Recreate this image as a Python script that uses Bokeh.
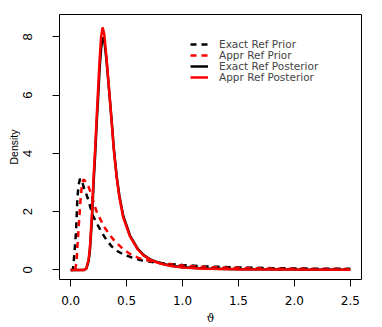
from bokeh.plotting import figure
from bokeh.models import FixedTicker, Legend, LegendItem, Range1d
from bokeh.embed import file_html
from bokeh.resources import INLINE

# ---- data ----
exact_prior_x = [0.0, 0.02, 0.03, 0.04, 0.048, 0.06, 0.07, 0.083, 0.1, 0.12, 0.14, 0.158, 0.18, 0.2,
                 0.24, 0.276, 0.32, 0.365, 0.42, 0.47, 0.55, 0.63, 0.75, 0.9, 1.0, 1.2, 1.5, 1.8, 2.1, 2.5]
exact_prior_y = [0.0, 0.0, 0.4, 0.9, 1.32, 2.45, 2.9, 3.13, 3.05, 2.8, 2.6, 2.4, 2.1, 1.85,
                 1.55, 1.3, 1.03, 0.81, 0.64, 0.53, 0.42, 0.33, 0.26, 0.2, 0.17, 0.12, 0.085, 0.06, 0.045, 0.035]

appr_prior_x = [0.04, 0.053, 0.06, 0.069, 0.079, 0.089, 0.1, 0.113, 0.13, 0.16, 0.187, 0.21, 0.232, 0.27,
                0.306, 0.35, 0.395, 0.46, 0.529, 0.6, 0.647, 0.72, 0.8, 0.9, 1.0, 1.2, 1.5, 1.8, 2.1, 2.5]
appr_prior_y = [0.0, 0.3, 0.8, 1.32, 1.9, 2.45, 2.9, 3.1, 3.05, 2.85, 2.57, 2.25, 2.0, 1.7,
                1.44, 1.2, 0.98, 0.75, 0.55, 0.42, 0.36, 0.3, 0.24, 0.19, 0.15, 0.1, 0.065, 0.045, 0.035, 0.025]

post_x = [0.0, 0.12, 0.14, 0.16, 0.172, 0.19, 0.205, 0.218, 0.232, 0.245, 0.26, 0.272, 0.285, 0.30,
          0.32, 0.345, 0.37, 0.385, 0.41, 0.435, 0.47, 0.53, 0.6, 0.65, 0.72, 0.8, 0.9, 1.0,
          1.2, 1.5, 2.0, 2.5]
exact_post_y = [0.0, 0.0, 0.04, 0.3, 0.68, 1.75, 3.0, 3.9, 5.0, 5.9, 7.0, 7.6, 7.98, 7.9,
                7.2, 6.1, 4.95, 4.2, 3.25, 2.55, 1.85, 1.18, 0.72, 0.52, 0.34, 0.23, 0.14, 0.09,
                0.045, 0.022, 0.01, 0.005]
appr_post_y = [0.0, 0.0, 0.05, 0.35, 0.76, 1.9, 3.2, 4.1, 5.2, 6.2, 7.3, 8.0, 8.33, 8.1,
               7.3, 6.1, 4.9, 4.15, 3.2, 2.5, 1.8, 1.15, 0.7, 0.5, 0.33, 0.22, 0.13, 0.08,
               0.04, 0.02, 0.01, 0.005]

x_ticks = [0.0, 0.5, 1.0, 1.5, 2.0, 2.5]
y_ticks = [0, 2, 4, 6, 8]
legend_labels = ["Exact Ref Prior", "Appr Ref Prior", "Exact Ref Posterior", "Appr Ref Posterior"]

FONT = "Liberation Sans"
WIDE = "DejaVu Sans"

p = figure(width=382, height=327, output_backend="svg", toolbar_location=None,
           x_range=Range1d(-0.1, 2.6), y_range=Range1d(-0.33, 8.77),
           min_border_left=59, min_border_right=21, min_border_top=14, min_border_bottom=45)

p.background_fill_color = "white"
p.outline_line_color = "black"
p.outline_line_width = 1
p.grid.visible = False

r1 = p.line(exact_prior_x, exact_prior_y, line_color="black", line_width=2.5, line_dash="6 5")
r2 = p.line(appr_prior_x, appr_prior_y, line_color="#ff0000", line_width=2.5, line_dash="6 5")
r3 = p.line(post_x, exact_post_y, line_color="black", line_width=2.5)
r4 = p.line(post_x, appr_post_y, line_color="#ff0000", line_width=2.5)

for ax in (p.xaxis[0], p.yaxis[0]):
    ax.axis_line_color = None
    ax.major_tick_line_color = "black"
    ax.major_tick_out = 7
    ax.major_tick_in = 0
    ax.minor_tick_line_color = None
    ax.major_label_text_color = "black"
    ax.axis_label_text_font = FONT
    ax.axis_label_text_font_style = "normal"
    ax.axis_label_text_color = "black"

p.xaxis.ticker = FixedTicker(ticks=x_ticks)
p.xaxis.major_label_overrides = {t: f"{t:.1f}" for t in x_ticks}
p.xaxis.major_label_text_font = WIDE
p.xaxis.major_label_text_font_size = "12px"
p.xaxis.major_label_standoff = 9
p.xaxis.axis_label = "ϑ"
p.xaxis.axis_label_text_font = "DejaVu Serif"
p.xaxis.axis_label_text_font_size = "11px"
p.xaxis.axis_label_standoff = 4

p.yaxis.ticker = FixedTicker(ticks=y_ticks)
p.yaxis.major_label_overrides = {t: str(t) for t in y_ticks}
p.yaxis.major_label_orientation = "vertical"
p.yaxis.major_label_text_font = FONT
p.yaxis.major_label_text_font_size = "13px"
p.yaxis.major_label_standoff = 20
p.yaxis.axis_label = "Density"
p.yaxis.axis_label_text_font_size = "10.5px"
p.yaxis.axis_label_standoff = 1

renderers = [r1, r2, r3, r4]
row_y = [228, 217, 206, 195]
for lab, r, yy in zip(legend_labels, renderers, row_y):
    lg = Legend(items=[LegendItem(label=lab, renderers=[r])],
                location=(131, yy), padding=0, margin=0, spacing=0,
                glyph_width=18, glyph_height=14, label_height=14, label_standoff=11,
                label_text_font=WIDE, label_text_font_size="10.5px",
                label_text_line_height=1.0,
                border_line_color=None, background_fill_alpha=0)
    p.add_layout(lg, "center")

open("out.html", "w").write(file_html(p, INLINE))
